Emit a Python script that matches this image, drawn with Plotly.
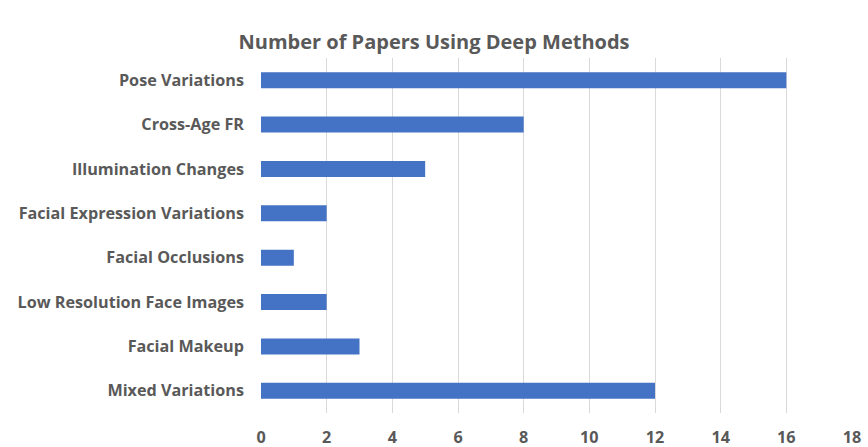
import plotly.graph_objects as go

categories = ["Pose Variations", "Cross-Age FR", "Illumination Changes",
              "Facial Expression Variations", "Facial Occlusions",
              "Low Resolution Face Images", "Facial Makeup", "Mixed Variations"]
values = [16, 8, 5, 2, 1, 2, 3, 12]
tick_vals = [0, 2, 4, 6, 8, 10, 12, 14, 16, 18]

fig = go.Figure(go.Bar(
    x=values, y=categories, orientation="h",
    marker=dict(color="#4472c4", line=dict(width=0)),
    width=0.36,
))

label_font = dict(family="Open Sans", size=16.2, color="#595959", weight=700)

fig.update_layout(
    width=868, height=447,
    margin=dict(l=261, r=16, t=58, b=34),
    paper_bgcolor="white", plot_bgcolor="white",
    title=dict(text="Number of Papers Using Deep Methods", x=0.5, xanchor="center",
               y=1 - 42 / 447, yref="container", yanchor="middle",
               font=dict(family="Open Sans", size=20, color="#595959", weight=700)),
    showlegend=False,
    xaxis=dict(range=[0, 18], tickvals=tick_vals, showgrid=True, gridcolor="#d9d9d9",
               gridwidth=1, zeroline=False, showline=False, tickfont=label_font,
               ticks="", ticklabelstandoff=13, automargin=False),
    yaxis=dict(categoryorder="array", categoryarray=categories[::-1],
               showgrid=False, showline=False, ticks="", tickfont=label_font,
               ticklabelstandoff=16, range=[-0.5, 7.5], automargin=False),
)
fig.write_html("out.html")
